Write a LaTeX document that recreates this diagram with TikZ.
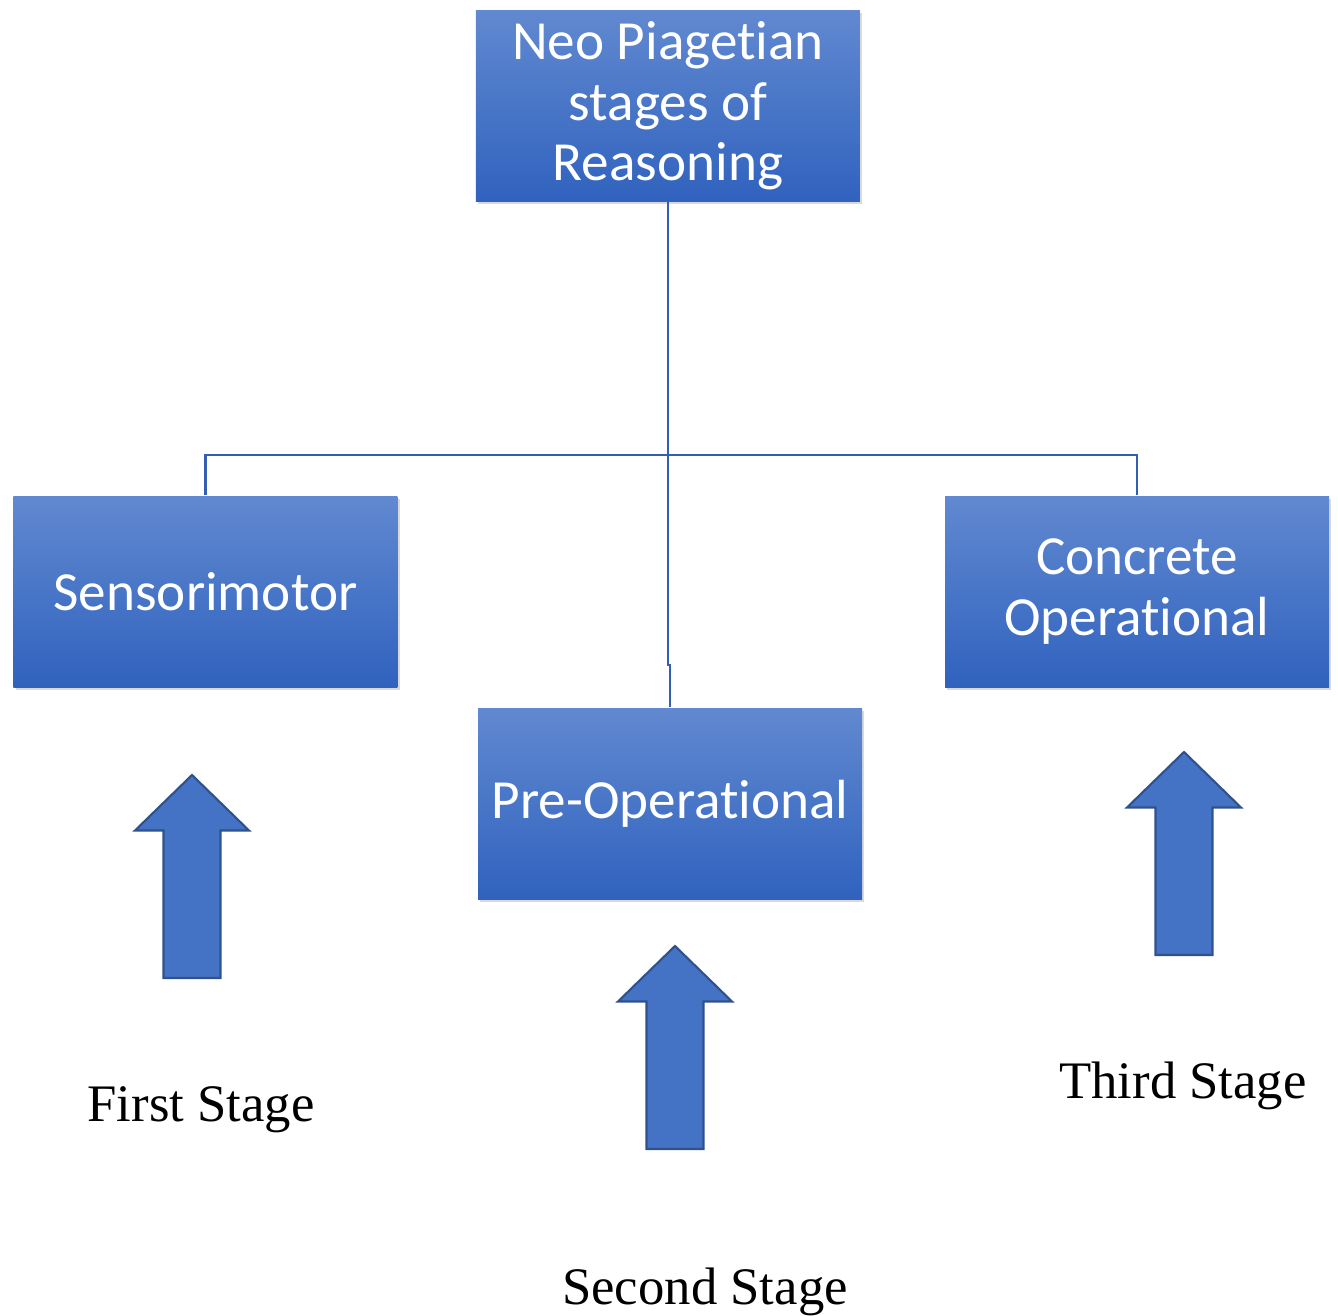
\documentclass[tikz,border=0pt]{standalone}
\usepackage{fontspec}
\setmainfont{Liberation Serif}
\newfontfamily\boxfont[RawFeature={-liga,-clig,-calt,-dlig}]{Carlito}
\usetikzlibrary{shadows}
\definecolor{officeblue}{RGB}{68,114,196}
\definecolor{officedark}{RGB}{47,82,143}
\definecolor{boxtop}{RGB}{97,137,208}
\definecolor{boxbot}{RGB}{48,98,190}
\definecolor{linkblue}{RGB}{52,94,176}
\newcommand{\stagearrow}[2]{\draw[blkarr] (#1,#2) -- ++(0.57,-0.555) -- ++(-0.285,0) -- ++(0,-1.475) -- ++(-0.57,0) -- ++(0,1.475) -- ++(-0.285,0) -- cycle;}
\tikzset{
  stagebox/.style={rectangle,minimum width=3.84cm,minimum height=1.91cm,inner sep=0pt,top color=boxtop,bottom color=boxbot,text=white,font=\boxfont\fontsize{15.7}{17.2}\selectfont,align=center,drop shadow={opacity=0.3,shadow xshift=0.6pt,shadow yshift=-0.8pt}},
  tline/.style={draw=linkblue,line width=0.7pt},
  blkarr/.style={fill=officeblue,draw=officedark,line width=0.6pt,line join=miter},
  slab/.style={font=\fontsize{15}{18}\selectfont,anchor=base}
}
\begin{document}
\begin{tikzpicture}
  \useasboundingbox (0,0) rectangle (13.38,-13.16);
  \node[stagebox] (top) at (6.68,-1.06) {Neo Piaget\kern0pt ian\\stages of\\Reasoning};
  \node[stagebox] (sens) at (2.055,-5.915) {Sensorimotor};
  \node[stagebox] (preop) at (6.70,-8.035) {Pre-Operat\kern0pt ional};
  \node[stagebox] (conc) at (11.37,-5.915) {Concrete\\Operat\kern0pt ional};
  \coordinate (hub) at (6.68,-4.55); \coordinate (jog) at (6.68,-6.65);
  \draw[tline] (top.south) -- (hub);
  \draw[tline] (sens.north) |- (hub) -| (conc.north);
  \draw[tline] (hub) -- (jog) -| (preop.north);
  \stagearrow{1.92}{-7.75} \stagearrow{6.75}{-9.46} \stagearrow{11.84}{-7.52}
  \node[slab] (first) at (2.01,-11.21) {First Stage};
  \node[slab] (second) at (7.05,-13.04) {Second Stage};
  \node[slab] (third) at (11.83,-10.98) {Third Stage};
\end{tikzpicture}
\end{document}
